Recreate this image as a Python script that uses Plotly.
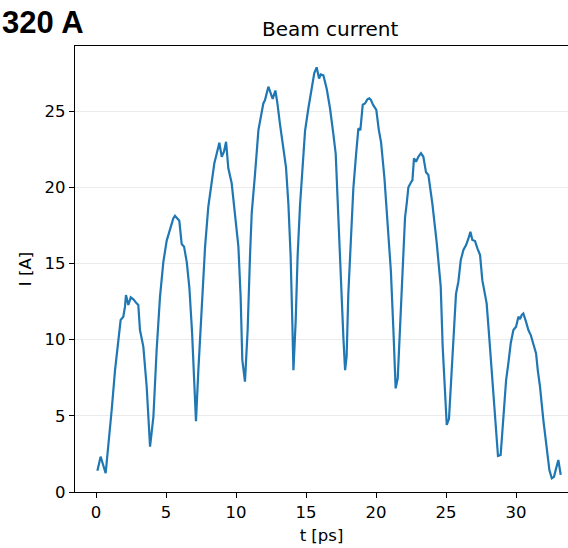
import plotly.graph_objects as go

t_ps = [0.10, 0.33, 0.69, 0.88, 1.12, 1.36, 1.60, 1.76, 1.95, 2.07, 2.14, 2.31, 2.48, 2.67, 2.90, 3.02,
        3.14, 3.38, 3.62, 3.86, 4.10, 4.33, 4.57, 4.81, 5.05, 5.29, 5.52, 5.64, 5.95, 6.12, 6.29, 6.48,
        6.67, 6.86, 7.00, 7.14, 7.31, 7.55, 7.79, 8.02, 8.26, 8.45, 8.62, 8.81, 8.98, 9.14, 9.29, 9.45,
        9.69, 9.93, 10.17, 10.33, 10.45, 10.64, 10.83, 11.00, 11.12, 11.36, 11.60, 11.95, 12.07, 12.31,
        12.62, 12.81, 12.95, 13.14, 13.38, 13.57, 13.74, 13.90, 14.02, 14.10, 14.26, 14.40, 14.57, 14.74,
        14.93, 15.17, 15.41, 15.59, 15.76, 15.93, 16.05, 16.24, 16.48, 16.71, 16.95, 17.12, 17.31, 17.50,
        17.67, 17.79, 17.90, 18.02, 18.14, 18.38, 18.57, 18.74, 18.88, 19.05, 19.21, 19.38, 19.52, 19.62,
        19.80, 20.02, 20.20, 20.36, 20.60, 20.82, 21.06, 21.24, 21.40, 21.55, 21.83, 21.95, 22.07, 22.20,
        22.31, 22.48, 22.60, 22.71, 22.86, 23.02, 23.21, 23.38, 23.57, 23.74, 24.02, 24.33, 24.62, 24.76,
        24.93, 25.05, 25.21, 25.45, 25.62, 25.71, 25.88, 26.05, 26.24, 26.43, 26.60, 26.74, 26.88, 27.07,
        27.24, 27.43, 27.59, 27.79, 27.90, 28.10, 28.38, 28.57, 28.71, 28.90, 29.10, 29.29, 29.45, 29.62,
        29.81, 30.00, 30.17, 30.29, 30.40, 30.52, 30.71, 30.88, 31.05, 31.24, 31.43, 31.55, 31.71, 31.95,
        32.19, 32.38, 32.55, 32.71, 32.86, 33.02, 33.19]

current_A = [1.40, 2.32, 1.23, 2.97, 5.38, 8.00, 10.20, 11.29, 11.50, 12.16, 12.93, 12.27, 12.77, 12.64, 12.38, 12.27,
             10.63, 9.54, 6.91, 2.97, 4.94, 9.32, 12.80, 15.10, 16.50, 17.20, 17.96, 18.13, 17.80, 16.27, 16.10, 15.10,
             13.40, 10.50, 7.20, 4.65, 8.00, 12.40, 16.10, 18.72, 20.26, 21.57, 22.20, 22.92, 22.00, 22.33, 22.98, 21.24,
             20.26, 18.29, 16.10, 12.80, 8.66, 7.24, 10.63, 15.50, 18.29, 20.90, 23.75, 25.50, 25.72, 26.60,
             25.80, 26.35, 25.55, 24.15, 22.60, 21.30, 18.90, 15.50, 11.20, 8.00, 11.20, 15.50, 18.80, 21.46,
             23.70, 25.20, 26.55, 27.50, 27.87, 27.14, 27.40, 27.34, 26.45, 25.20, 23.50, 22.20, 18.00, 13.50,
             10.10, 8.00, 8.90, 13.00, 15.55, 19.93, 22.11, 23.86, 23.75, 25.42, 25.50, 25.77, 25.83, 25.75,
             25.39, 25.07, 23.75, 22.95, 20.60, 17.80, 14.50, 10.63, 6.80, 7.46, 13.50, 15.44, 18.00, 19.00,
             20.00, 20.30, 20.47, 21.90, 21.67, 22.00, 22.24, 22.00, 20.98, 20.80, 18.94, 16.40, 13.50, 9.54,
             6.25, 4.40, 4.80, 9.20, 11.80, 13.00, 13.80, 15.22, 15.88, 16.20, 16.64, 17.08, 16.54, 16.47,
             15.99, 15.55, 13.90, 12.93, 12.38, 9.97, 6.47, 4.07, 2.36, 2.43, 4.72, 7.35, 8.44, 9.76,
             10.63, 10.85, 11.50, 11.35, 11.61, 11.72, 11.18, 10.63, 10.30, 9.76, 9.10, 8.00, 6.91, 4.72,
             2.76, 1.44, 0.90, 1.00, 1.55, 2.10, 1.12]

x_ticks = [0, 5, 10, 15, 20, 25, 30]
y_ticks = [0, 5, 10, 15, 20, 25]

fig = go.Figure()
fig.add_trace(go.Scatter(x=t_ps, y=current_A, mode="lines",
                         line=dict(color="#1f77b4", width=2.2), showlegend=False))

axis_font = dict(family="DejaVu Sans", size=16.5, color="black")

fig.update_layout(
    width=568, height=548,
    margin=dict(l=75, r=0, t=46, b=56),
    paper_bgcolor="white", plot_bgcolor="white",
    font=dict(family="DejaVu Sans", size=16.5, color="black"),
    xaxis=dict(range=[-1.5, 33.71], tickvals=x_ticks, ticks="outside", ticklen=5,
               tickcolor="black", showline=True, linecolor="black", linewidth=1.2,
               mirror=True, showgrid=False, zeroline=False, tickfont=axis_font,
               title=dict(text="t [ps]", font=axis_font, standoff=8)),
    yaxis=dict(range=[0, 29.27], tickvals=y_ticks, ticks="outside", ticklen=5,
               tickcolor="black", showline=True, linecolor="black", linewidth=1.2,
               showgrid=True, gridcolor="#ebebeb", gridwidth=1, zeroline=False,
               tickfont=axis_font,
               title=dict(text="I [A]", font=axis_font, standoff=8)),
    annotations=[
        dict(text="Beam current", xref="paper", yref="paper", x=0.517, y=1.0,
             xanchor="center", yanchor="bottom", yshift=3, showarrow=False,
             font=dict(family="DejaVu Sans", size=20, color="black")),
        dict(text="<b>320 A</b>", xref="paper", yref="paper", x=-75/493, y=1.0,
             xanchor="left", yanchor="bottom", xshift=0, yshift=4, showarrow=False,
             font=dict(family="Liberation Sans", size=31, color="black")),
    ],
)

fig.write_html("out.html")
